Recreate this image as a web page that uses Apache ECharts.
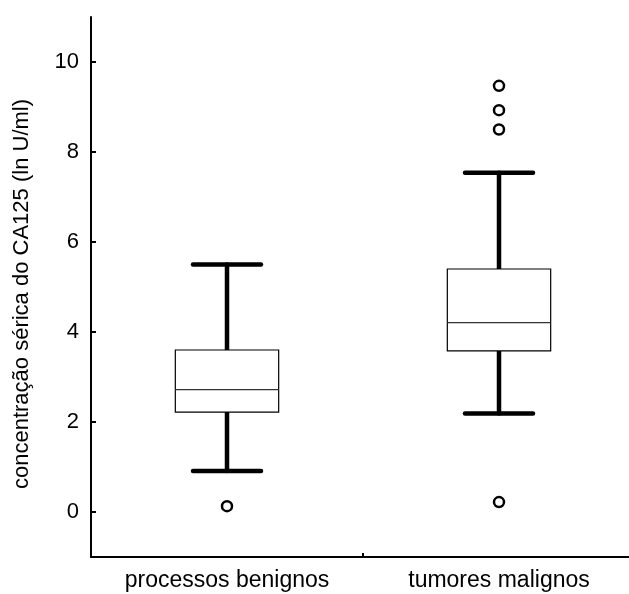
<!DOCTYPE html>
<html>
<head>
<meta charset="utf-8">
<script src="https://cdn.jsdelivr.net/npm/echarts@6/dist/echarts.min.js"></script>
<style>html,body{margin:0;padding:0;background:#fff}#c{width:629px;height:594px}</style>
</head>
<body>
<div id="c"></div>
<script>
var categories = ['processos benignos', 'tumores malignos'];
// [whisker low, Q1, median, Q3, whisker high]
var boxBenignos = [0.91, 2.22, 2.72, 3.60, 5.50];
var boxMalignos = [2.19, 3.58, 4.21, 5.40, 7.54];
var outliersBenignos = [0.13];
var outliersMalignos = [9.47, 8.93, 8.50, 0.22];
var yTicks = [0, 2, 4, 6, 8, 10];
var yName = 'concentração sérica do CA125 (ln U/ml)';

var boxes = [boxBenignos, boxMalignos];
var boxData = boxes.map(function (b, i) { return [i].concat(b); });
var outlierData = [];
outliersBenignos.forEach(function (v) { outlierData.push([0, v]); });
outliersMalignos.forEach(function (v) { outlierData.push([1, v]); });
var tickData = yTicks.map(function (v) { return [0, v]; });

var FONT = '"Liberation Sans", Arial, Helvetica, sans-serif';

function renderBox(params, api) {
  var x = api.value(0);
  var low = api.coord([x, api.value(1)]);
  var q1 = api.coord([x, api.value(2)]);
  var med = api.coord([x, api.value(3)]);
  var q3 = api.coord([x, api.value(4)]);
  var high = api.coord([x, api.value(5)]);
  var band = api.size([1, 0])[0];
  var bw = band * 0.38;
  var cw = band * 0.25;
  var cx = low[0];
  var thick = { stroke: '#000', lineWidth: 4.5, lineCap: 'round' };
  return {
    type: 'group',
    children: [
      { type: 'line', shape: { x1: cx, y1: low[1], x2: cx, y2: q1[1] }, style: thick },
      { type: 'line', shape: { x1: cx, y1: q3[1], x2: cx, y2: high[1] }, style: thick },
      { type: 'line', shape: { x1: cx - cw / 2, y1: low[1], x2: cx + cw / 2, y2: low[1] }, style: thick },
      { type: 'line', shape: { x1: cx - cw / 2, y1: high[1], x2: cx + cw / 2, y2: high[1] }, style: thick },
      { type: 'rect', shape: { x: cx - bw / 2, y: q3[1], width: bw, height: q1[1] - q3[1] },
        style: { fill: '#fff', stroke: '#000', lineWidth: 1.2 } },
      { type: 'line', shape: { x1: cx - bw / 2, y1: med[1], x2: cx + bw / 2, y2: med[1] },
        style: { stroke: '#333', lineWidth: 1.2 } }
    ]
  };
}

function renderTick(params, api) {
  var p = api.coord([api.value(0), api.value(1)]);
  var band = api.size([1, 0])[0];
  var x0 = p[0] - band / 2;
  return { type: 'line', shape: { x1: x0, y1: p[1], x2: x0 + 5, y2: p[1] },
    style: { stroke: '#000', lineWidth: 2 } };
}

var chart = echarts.init(document.getElementById('c'), null, { renderer: 'canvas' });
chart.setOption({
  animation: false,
  backgroundColor: '#fff',
  grid: { left: 91, top: 17, bottom: 37, width: 544, containLabel: false, outerBoundsMode: 'none' },
  xAxis: {
    type: 'category',
    data: categories,
    boundaryGap: true,
    axisLine: { onZero: false, lineStyle: { color: '#000', width: 2 } },
    axisTick: { show: true, inside: true, length: 4, lineStyle: { color: '#000', width: 2 } },
    axisLabel: { color: '#000', fontSize: 23, fontFamily: FONT, margin: 12 },
    splitLine: { show: false }
  },
  yAxis: {
    type: 'value',
    min: -1,
    max: 11,
    interval: 1,
    name: yName,
    nameLocation: 'middle',
    nameGap: 58,
    nameTextStyle: { color: '#000', fontSize: 22, fontFamily: FONT, padding: [0, 14, 0, 0] },
    axisLine: { show: true, lineStyle: { color: '#000', width: 2 } },
    axisTick: { show: false },
    axisLabel: { color: '#000', fontSize: 22, fontFamily: FONT, margin: 12, customValues: yTicks },
    splitLine: { show: false }
  },
  series: [
    { type: 'custom', renderItem: renderTick, data: tickData, encode: { x: 0, y: 1 }, z: 5, silent: true },
    { type: 'custom', renderItem: renderBox, data: boxData, encode: { x: 0, y: [1, 2, 3, 4, 5] }, z: 2 },
    { type: 'scatter', data: outlierData, symbol: 'circle', symbolSize: 10,
      itemStyle: { color: '#fff', borderColor: '#000', borderWidth: 2.5, opacity: 1 }, z: 3 }
  ]
});
</script>
</body>
</html>
